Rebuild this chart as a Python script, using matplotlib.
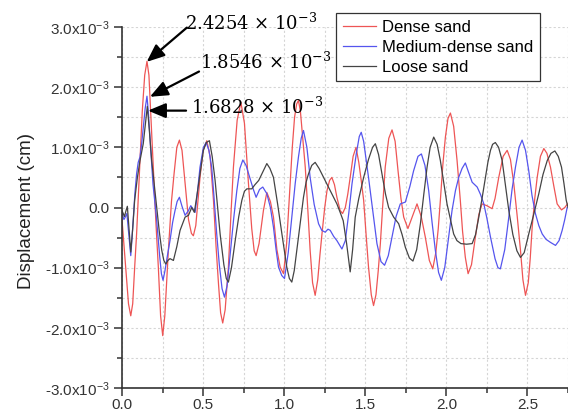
import matplotlib
matplotlib.use('Agg')
import matplotlib.pyplot as plt
from matplotlib.ticker import MultipleLocator, FuncFormatter
import numpy as np

plt.rcParams['font.family'] = ['Liberation Sans', 'DejaVu Sans']
plt.rcParams['mathtext.fontset'] = 'dejavuserif'

# time (s) and displacement (x10^-3 cm)
dense_x = [0.0, 0.02, 0.04, 0.054, 0.066, 0.078, 0.09, 0.111, 0.125, 0.14, 0.154, 0.166,
           0.18, 0.193, 0.21, 0.224, 0.238, 0.251, 0.264, 0.276, 0.286, 0.305, 0.321,
           0.338, 0.354, 0.37, 0.389, 0.41, 0.428, 0.44, 0.455, 0.481, 0.5, 0.523,
           0.543, 0.564, 0.58, 0.595, 0.608, 0.621, 0.636, 0.656, 0.672, 0.687, 0.71,
           0.733, 0.755, 0.78, 0.80, 0.815, 0.827, 0.845, 0.872, 0.893, 0.915, 0.934,
           0.955, 0.975, 0.996, 1.015, 1.037, 1.05, 1.064, 1.077, 1.088, 1.1, 1.113,
           1.13, 1.145, 1.16, 1.175, 1.191, 1.207, 1.22, 1.233, 1.25, 1.264, 1.28,
           1.294, 1.31, 1.325, 1.345, 1.36, 1.377, 1.392, 1.407, 1.425, 1.443, 1.46,
           1.475, 1.49, 1.505, 1.52, 1.537, 1.551, 1.566, 1.58, 1.593, 1.608, 1.623,
           1.645, 1.665, 1.684, 1.702, 1.72, 1.737, 1.763, 1.79, 1.819, 1.845, 1.87,
           1.895, 1.916, 1.935, 1.95, 1.963, 1.978, 1.994, 2.01, 2.025, 2.045, 2.066,
           2.086, 2.1, 2.117, 2.134, 2.155, 2.179, 2.2, 2.22, 2.25, 2.282, 2.3, 2.323,
           2.35, 2.375, 2.395, 2.416, 2.437, 2.457, 2.472, 2.488, 2.505, 2.517, 2.529,
           2.545, 2.56, 2.58, 2.601, 2.62, 2.642, 2.663, 2.683, 2.71, 2.73, 2.75]
dense_y = [-0.2, -0.9, -1.6, -1.80, -1.6, -1.0, -0.44, 0.78, 1.6, 2.2, 2.43, 2.2,
           1.4, 0.67, -0.3, -0.99, -1.8, -2.13, -1.8, -1.2, -0.71, 0.1, 0.56,
           1.0, 1.12, 0.95, 0.40, -0.2, -0.43, -0.47, -0.3, 0.5, 0.95, 1.11,
           0.85, 0.12, -0.65, -1.27, -1.75, -1.92, -1.7, -0.99, -0.1, 0.67, 1.45,
           1.75, 1.4, 0.39, -0.35, -0.72, -0.80, -0.6, -0.05, 0.25, 0.1, -0.16,
           -0.7, -0.99, -1.10, -0.6, 0.39, 1.0, 1.5, 1.72, 1.78, 1.6, 1.2,
           0.67, 0.0, -0.71, -1.25, -1.46, -1.2, -0.8, -0.44, 0.0, 0.28, 0.45,
           0.50, 0.38, 0.17, -0.05, -0.10, 0.0, 0.22, 0.50, 0.85, 1.0, 0.75,
           0.45, 0.12, -0.45, -0.99, -1.45, -1.63, -1.45, -1.05, -0.6, 0.05, 0.67,
           1.15, 1.29, 1.1, 0.61, 0.15, -0.16, -0.35, -0.15, 0.06, -0.15, -0.49,
           -0.88, -1.02, -0.75, -0.35, 0.12, 0.7, 1.17, 1.48, 1.57, 1.35, 0.78,
           0.12, -0.4, -0.83, -1.10, -0.95, -0.49, -0.12, 0.06, 0.03, -0.02, 0.15, 0.5,
           0.85, 0.95, 0.8, 0.39, -0.15, -0.71, -1.2, -1.46, -1.25, -0.85, -0.33,
           0.15, 0.5, 0.85, 0.98, 0.9, 0.67, 0.35, 0.06, -0.04, 0.0, 0.07]

medium_x = [0.0, 0.012, 0.02, 0.03, 0.042, 0.054, 0.062, 0.07, 0.08, 0.09, 0.1, 0.111,
            0.121, 0.131, 0.143, 0.154, 0.162, 0.171, 0.181, 0.191, 0.212, 0.233, 0.243,
            0.253, 0.265, 0.28, 0.296, 0.312, 0.327, 0.34, 0.354, 0.37, 0.389, 0.41,
            0.424, 0.437, 0.451, 0.465, 0.481, 0.502, 0.519, 0.536, 0.553, 0.568, 0.584,
            0.6, 0.617, 0.632, 0.648, 0.667, 0.688, 0.708, 0.727, 0.745, 0.765, 0.79,
            0.81, 0.827, 0.848, 0.868, 0.893, 0.915, 0.934, 0.95, 0.965, 0.985, 1.002,
            1.025, 1.047, 1.068, 1.088, 1.105, 1.119, 1.14, 1.16, 1.185, 1.212, 1.232,
            1.253, 1.27, 1.284, 1.305, 1.325, 1.356, 1.377, 1.398, 1.418, 1.445, 1.463,
            1.475, 1.49, 1.52, 1.548, 1.572, 1.597, 1.619, 1.642, 1.665, 1.69, 1.716,
            1.747, 1.775, 1.798, 1.825, 1.846, 1.868, 1.891, 1.912, 1.932, 1.952, 1.969,
            1.99, 2.014, 2.035, 2.056, 2.076, 2.097, 2.117, 2.135, 2.159, 2.19, 2.21,
            2.231, 2.25, 2.272, 2.3, 2.318, 2.333, 2.36, 2.385, 2.405, 2.426, 2.448,
            2.467, 2.488, 2.508, 2.528, 2.549, 2.57, 2.591, 2.615, 2.642, 2.673, 2.695,
            2.714, 2.73, 2.745]
medium_y = [-0.1, -0.2, -0.16, -0.1, -0.45, -0.80, -0.5, -0.16, 0.25, 0.56, 0.75, 0.84,
            1.05, 1.33, 1.65, 1.85, 1.6, 1.22, 0.8, 0.39, -0.16, -0.83, -1.1,
            -1.21, -1.05, -0.8, -0.55, -0.25, -0.05, 0.1, 0.17, 0.02, -0.13, -0.05,
            0.03, -0.02, -0.08, 0.25, 0.67, 1.0, 1.08, 0.95, 0.67, 0.15, -0.44,
            -0.95, -1.35, -1.49, -1.3, -0.77, -0.2, 0.28, 0.65, 0.79, 0.7, 0.48,
            0.3, 0.17, 0.3, 0.34, 0.23, 0.0, -0.33, -0.7, -0.99, -1.13, -1.18,
            -0.75, -0.16, 0.4, 0.84, 1.15, 1.28, 1.0, 0.5, 0.05, -0.27, -0.38,
            -0.41, -0.36, -0.38, -0.48, -0.55, -0.69, -0.55, -0.1, 0.39, 0.9, 1.18,
            1.25, 1.1, 0.5, -0.1, -0.6, -0.9, -0.96, -0.8, -0.49, -0.15, 0.06,
            0.09, 0.35, 0.61, 0.85, 0.89, 0.7, 0.28, -0.25, -0.71, -1.08, -1.21,
            -1.0, -0.49, -0.05, 0.28, 0.5, 0.65, 0.74, 0.6, 0.42, 0.34, 0.22,
            0.06, -0.18, -0.49, -0.85, -1.0, -1.02, -0.7, -0.16, 0.3, 0.67, 1.0,
            1.12, 0.95, 0.61, 0.2, -0.1, -0.3, -0.44, -0.53, -0.58, -0.63, -0.55,
            -0.38, -0.2, 0.0]

loose_x = [0.0, 0.015, 0.025, 0.033, 0.043, 0.054, 0.066, 0.078, 0.095, 0.111, 0.131, 0.145,
           0.156, 0.168, 0.183, 0.2, 0.214, 0.23, 0.245, 0.258, 0.27, 0.283, 0.296,
           0.317, 0.338, 0.358, 0.389, 0.41, 0.43, 0.446, 0.462, 0.481, 0.502, 0.52,
           0.539, 0.556, 0.574, 0.59, 0.605, 0.628, 0.643, 0.656, 0.675, 0.698, 0.72,
           0.739, 0.755, 0.77, 0.80, 0.82, 0.843, 0.87, 0.893, 0.912, 0.934, 0.96,
           0.986, 1.016, 1.032, 1.047, 1.062, 1.078, 1.1, 1.119, 1.135, 1.15, 1.17,
           1.191, 1.215, 1.243, 1.284, 1.325, 1.345, 1.364, 1.385, 1.407, 1.422, 1.438,
           1.46, 1.49, 1.52, 1.545, 1.562, 1.582, 1.603, 1.625, 1.644, 1.675, 1.706,
           1.727, 1.747, 1.772, 1.794, 1.817, 1.84, 1.86, 1.881, 1.9, 1.922, 1.943,
           1.963, 1.985, 2.004, 2.025, 2.045, 2.065, 2.09, 2.125, 2.159, 2.18, 2.2,
           2.22, 2.241, 2.256, 2.272, 2.285, 2.302, 2.322, 2.344, 2.365, 2.385, 2.41,
           2.435, 2.457, 2.48, 2.508, 2.54, 2.57, 2.596, 2.622, 2.645, 2.669, 2.69,
           2.71, 2.725, 2.739, 2.75]
loose_y = [-0.05, -0.15, -0.05, 0.02, -0.35, -0.74, -0.35, 0.12, 0.5, 0.78, 1.06, 1.4,
           1.68, 1.3, 0.78, 0.35, 0.0, -0.4, -0.71, -0.88, -0.94, -0.88, -0.85,
           -0.88, -0.65, -0.38, -0.16, -0.13, 0.0, -0.08, 0.2, 0.56, 0.95, 1.08,
           1.11, 0.85, 0.45, 0.0, -0.44, -0.95, -1.18, -1.24, -1.0, -0.55, -0.15,
           0.12, 0.27, 0.31, 0.31, 0.38, 0.45, 0.6, 0.73, 0.65, 0.5, 0.05,
           -0.44, -0.99, -1.18, -1.24, -1.05, -0.71, -0.25, 0.17, 0.42, 0.56, 0.7,
           0.75, 0.65, 0.5, 0.28, 0.06, -0.08, -0.22, -0.6, -1.07, -0.7, -0.16,
           0.15, 0.5, 0.8, 1.0, 1.06, 0.88, 0.56, 0.22, 0.0, -0.16, -0.27,
           -0.45, -0.66, -0.84, -0.89, -0.7, -0.27, 0.2, 0.67, 1.0, 1.17, 1.05,
           0.78, 0.4, 0.06, -0.2, -0.44, -0.55, -0.6, -0.61, -0.6, -0.45, -0.16,
           0.15, 0.5, 0.75, 0.95, 1.05, 1.08, 1.0, 0.78, 0.35, -0.05, -0.45,
           -0.72, -0.83, -0.75, -0.44, -0.1, 0.23, 0.55, 0.78, 0.9, 0.94, 0.85,
           0.67, 0.4, 0.12, 0.0]

# peak labels: (tip x, tip y, tail x, tail y, text x, text y, text)
peaks = [
    (0.152, 2.42, 0.40, 2.99, 0.389, 3.07, "2.4254 \u00d7 10$^{-3}$"),
    (0.172, 1.84, 0.475, 2.26, 0.481, 2.41, "1.8546 \u00d7 10$^{-3}$"),
    (0.160, 1.61, 0.395, 1.61, 0.428, 1.66, "1.6828 \u00d7 10$^{-3}$"),
]

fig = plt.figure(figsize=(5.68, 4.12), dpi=100)
ax = fig.add_axes([122 / 568, 24 / 412, 446 / 568, 361 / 412])

ax.plot(dense_x, np.array(dense_y) * 1e-3, color='#ee5555', lw=0.9, label='Dense sand')
ax.plot(medium_x, np.array(medium_y) * 1e-3, color='#5555ee', lw=0.9, label='Medium-dense sand')
ax.plot(loose_x, np.array(loose_y) * 1e-3, color='#444444', lw=0.9, label='Loose sand')

for tx, ty, sx, sy, lx, ly, s in peaks:
    ax.annotate('', xy=(tx, ty * 1e-3), xytext=(sx, sy * 1e-3), annotation_clip=False,
                arrowprops=dict(arrowstyle='-|>,head_length=0.6,head_width=0.25',
                                color='black', lw=1.6, mutation_scale=18,
                                shrinkA=0, shrinkB=0))
    ax.text(lx, ly * 1e-3, s, fontsize=13, family='DejaVu Serif',
            ha='left', va='center', clip_on=False)

ax.set_xlim(0, 2.75)
ax.set_ylim(-3e-3, 3e-3)
ax.xaxis.set_major_locator(MultipleLocator(0.5))
ax.xaxis.set_minor_locator(MultipleLocator(0.25))
ax.yaxis.set_major_locator(MultipleLocator(1e-3))
ax.yaxis.set_minor_locator(MultipleLocator(0.5e-3))
ax.xaxis.set_major_formatter(FuncFormatter(lambda v, p: f'{v:.1f}'))


def yfmt(v, p):
    if abs(v) < 1e-9:
        return '0.0'
    return f'{v * 1e3:.1f}x10$^{{\\mathregular{{-3}}}}$'


ax.yaxis.set_major_formatter(FuncFormatter(yfmt))

ax.grid(which='both', color='#d5d5d5', linestyle=(0, (2, 2)), linewidth=0.8)
ax.set_axisbelow(True)
for side in ['top', 'right']:
    ax.spines[side].set_visible(False)
for side in ['left', 'bottom']:
    ax.spines[side].set_color('#333333')
    ax.spines[side].set_linewidth(1.2)
ax.tick_params(which='major', direction='out', length=6, width=1.1, colors='#333333',
               labelsize=11, pad=3)
ax.tick_params(axis='x', which='major', pad=1)
ax.tick_params(which='minor', direction='out', length=3.5, width=1.1, colors='#333333')

ax.set_ylabel('Displacement (cm)', fontsize=13.5, color='#222222')
ax.yaxis.set_label_coords(-0.195, 0.49)

leg = ax.legend(loc='upper left', bbox_to_anchor=(336 / 568, 1 - 13 / 412),
                bbox_transform=fig.transFigure, borderaxespad=0, fontsize=12,
                handlelength=2.0, handletextpad=0.35, labelspacing=0.3,
                borderpad=0.4, fancybox=False, framealpha=1, edgecolor='#333333')
leg.get_frame().set_linewidth(0.9)

fig.savefig('out.png', dpi=100)
